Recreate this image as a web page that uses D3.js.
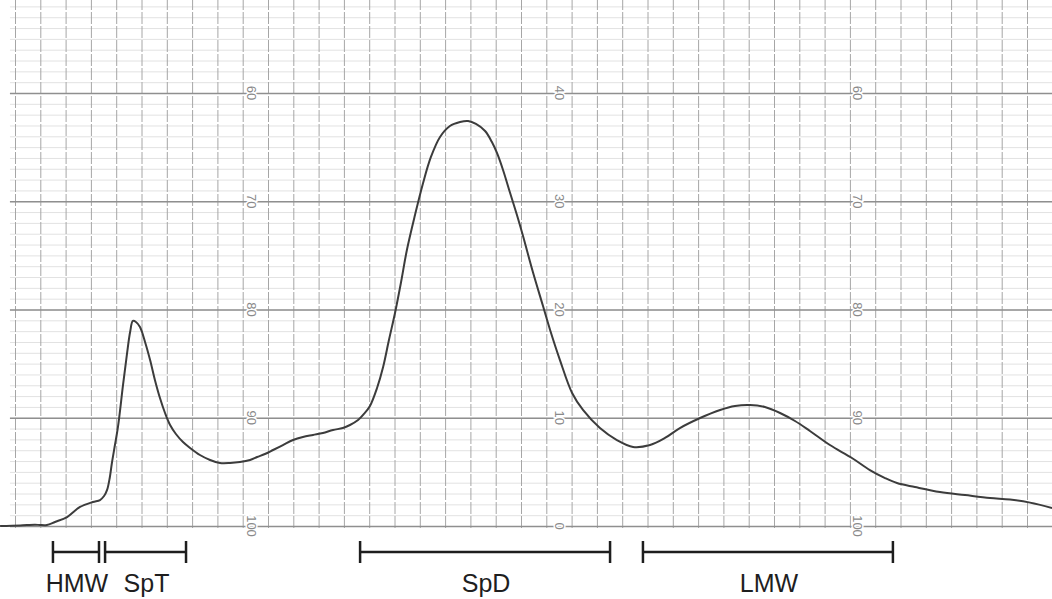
<!DOCTYPE html>
<html>
<head>
<meta charset="utf-8">
<script src="https://cdn.jsdelivr.net/npm/d3@7"></script>
<style>
  html, body { margin: 0; padding: 0; background: #fff; }
  svg { display: block; }
</style>
</head>
<body>
<svg id="chart" width="1052" height="599"></svg>
<script>
// ---- Data (chart divisions along x, recorder units along y) ----
const time = [-0.59, 0.20, 0.79, 0.99, 1.26, 1.58, 2.06, 2.57, 3.08, 3.36,
  3.52, 3.64, 3.75, 3.83, 3.95, 4.07, 4.27, 4.43, 4.55, 4.66,
  4.78, 4.94, 5.14, 5.34, 5.53, 5.73, 5.93, 6.13, 6.36, 6.64,
  6.92, 7.31, 7.71, 8.10, 8.50, 8.89, 9.29, 9.57, 9.88, 10.20,
  10.59, 10.99, 11.38, 11.78, 12.17, 12.57, 12.96, 13.24, 13.56, 13.79,
  14.03, 14.31, 14.55, 14.78, 15.02, 15.26, 15.49, 15.81, 16.13, 16.44,
  16.80, 17.19, 17.59, 17.91, 18.22, 18.58, 18.85, 19.05, 19.29, 19.57,
  19.84, 20.08, 20.47, 20.87, 21.15, 21.54, 22.02, 22.45, 23.12, 23.79,
  24.43, 25.10, 25.69, 26.28, 27.08, 27.87, 28.46, 29.05, 29.64, 30.24,
  30.83, 31.42, 32.21, 33.08, 33.79, 34.39, 34.86, 35.57, 36.56, 37.55,
  38.54, 39.33, 40.12, 40.99];
const signal = [0, 0.05, 0.12, 0.09, 0.09, 0.37, 0.83, 1.76, 2.22, 2.40,
  2.77, 3.33, 4.53, 5.82, 7.48, 9.15, 13.03, 15.98, 17.92, 18.94,
  18.85, 18.38, 17.00, 15.33, 13.49, 11.82, 10.44, 9.33, 8.50, 7.76,
  7.21, 6.56, 6.10, 5.82, 5.82, 5.91, 6.10, 6.37, 6.65, 7.02,
  7.48, 7.94, 8.22, 8.41, 8.59, 8.87, 9.05, 9.33, 9.79, 10.35,
  11.09, 12.75, 14.69, 17.18, 19.68, 22.54, 25.50, 28.73, 31.69, 34.09,
  35.94, 36.95, 37.32, 37.41, 37.14, 36.49, 35.47, 34.46, 32.89, 30.76,
  28.73, 26.79, 23.46, 20.32, 18.11, 15.33, 12.29, 10.72, 9.05, 7.94,
  7.30, 7.48, 8.13, 9.05, 9.98, 10.72, 11.09, 11.18, 10.99, 10.44,
  9.70, 8.78, 7.48, 6.28, 5.17, 4.43, 3.97, 3.60, 3.14, 2.86,
  2.59, 2.45, 2.16, 1.66];

// chart-paper printed scale labels (three columns)
const scaleLeft = [60, 70, 80, 90, 100];
const scaleMid = [40, 30, 20, 10, 0];
const scaleRight = [60, 70, 80, 90, 100];
const scaleLevels = [40, 30, 20, 10, 0];   // recorder level of each printed label
const scaleColumns = [9.37, 21.54, 33.32]; // chart division where each label column sits

// fraction bars
const fractions = ["HMW", "SpT", "SpD", "LMW"];
const fracStart = [1.50, 3.56, 13.64, 24.82];
const fracEnd = [3.32, 6.76, 23.52, 34.70];

// ---- Drawing ----
const W = 1052, H = 599;
const svg = d3.select("#chart");
svg.append("rect").attr("width", W).attr("height", H).attr("fill", "#fff");

const x = d3.scaleLinear().domain([0, 41]).range([15, 15 + 25.3 * 41]);
const y = d3.scaleLinear().domain([0, 40]).range([526, 93]);

// minor horizontal grid
const gMinor = svg.append("g").attr("transform", `translate(${x(-0.2)},0)`)
  .call(d3.axisLeft(y).tickValues(d3.range(0, 49, 1)).tickSize(-(W - x(-0.2))).tickFormat(""));
gMinor.select(".domain").remove();
gMinor.selectAll(".tick line").attr("stroke", "#e2e2e2").attr("stroke-width", 1);

// vertical grid
const gV = svg.append("g").attr("transform", `translate(0,${y(0) + 2})`)
  .call(d3.axisBottom(x).tickValues(d3.range(0, 42, 1)).tickSize(-(y(0) + 2)).tickFormat(""));
gV.select(".domain").remove();
gV.selectAll(".tick line").attr("stroke", "#a6a6a6").attr("stroke-width", 1)
  .attr("stroke-dasharray", "12,2");

// major horizontal grid
const gMajor = svg.append("g").attr("transform", `translate(${x(-0.2)},0)`)
  .call(d3.axisLeft(y).tickValues(d3.range(0, 41, 10)).tickSize(-(W - x(-0.2))).tickFormat(""));
gMajor.select(".domain").remove();
gMajor.selectAll(".tick line").attr("stroke", "#8f8f8f").attr("stroke-width", 1.5);

// printed scale labels (rotated)
[scaleLeft, scaleMid, scaleRight].forEach((labels, ci) => {
  labels.forEach((lab, i) => {
    const px = x(scaleColumns[ci]), py = y(scaleLevels[i]);
    svg.append("text")
      .attr("transform", `translate(${px},${py}) rotate(90)`)
      .attr("text-anchor", "middle")
      .attr("dy", "0.35em")
      .attr("font-family", "Liberation Sans, Arial, sans-serif")
      .attr("font-size", 13)
      .attr("fill", "#8a8a8a")
      .attr("stroke", "#fff").attr("stroke-width", 3).attr("paint-order", "stroke")
      .text(lab);
  });
});

// trace
const line = d3.line()
  .x((d, i) => x(time[i]))
  .y(d => y(d))
  .curve(d3.curveCatmullRom.alpha(0.5));
svg.append("path")
  .datum(signal)
  .attr("d", line)
  .attr("fill", "none")
  .attr("stroke", "#3c3c3c")
  .attr("stroke-width", 2)
  .attr("stroke-linejoin", "round");

// fraction bars
const barY = 552, tickH = 11;
const gF = svg.append("g");
fractions.forEach((name, i) => {
  const x0 = x(fracStart[i]), x1 = x(fracEnd[i]);
  gF.append("line").attr("x1", x0).attr("x2", x1).attr("y1", barY).attr("y2", barY)
    .attr("stroke", "#1e1e1e").attr("stroke-width", 2.5);
  [x0, x1].forEach(xx => gF.append("line").attr("x1", xx).attr("x2", xx)
    .attr("y1", barY - tickH).attr("y2", barY + tickH)
    .attr("stroke", "#1e1e1e").attr("stroke-width", 2.5));
  gF.append("text")
    .attr("x", (x0 + x1) / 2 + 1)
    .attr("y", 592)
    .attr("text-anchor", "middle")
    .attr("font-family", "Liberation Sans, Arial, sans-serif")
    .attr("font-size", 25)
    .attr("fill", "#1e1e1e")
    .text(name);
});
</script>
</body>
</html>
